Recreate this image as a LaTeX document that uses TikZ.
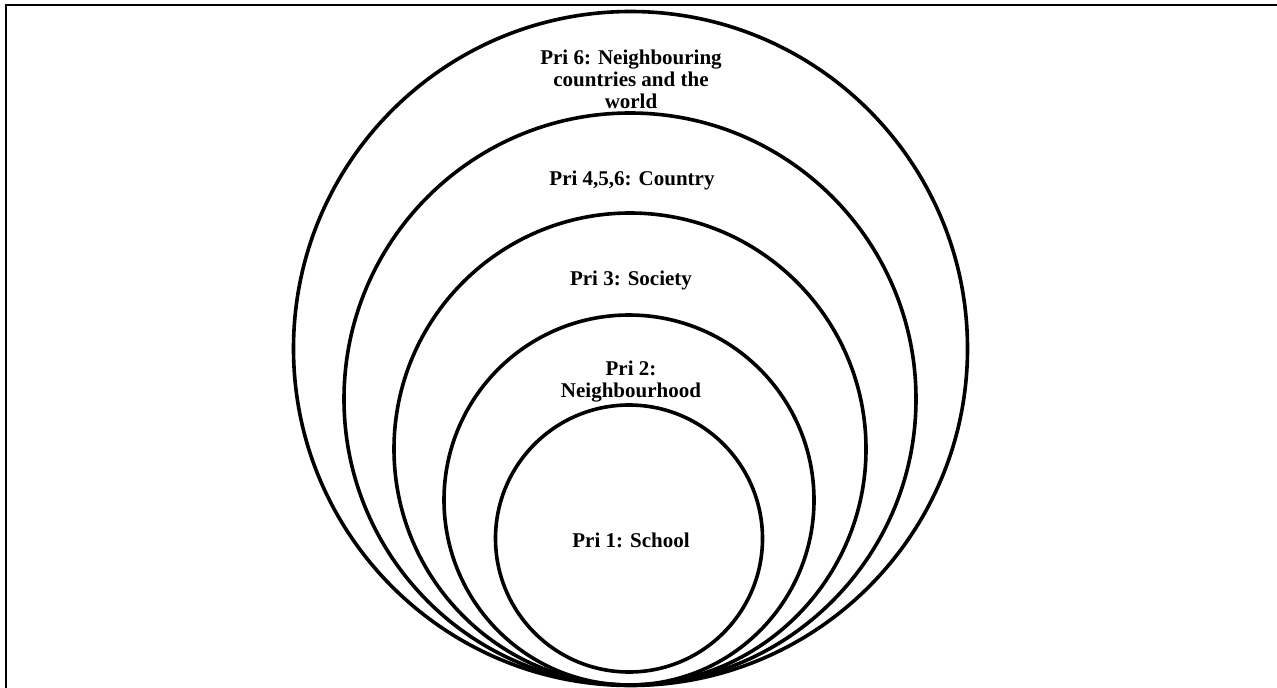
\documentclass[tikz,border=0pt]{standalone}
\usepackage{fontspec}
\setmainfont{Liberation Serif}
\begin{document}
\begin{tikzpicture}[x=1pt,y=-1pt,
  ring/.style={draw=black, line width=3.6pt, circle, inner sep=0pt, outer sep=0pt},
  lbl/.style={font=\bfseries\fontsize{21}{22}\selectfont, align=center, inner sep=0pt, text=black}]
\useasboundingbox (0,0) rectangle (1277,688);
% frame (left and top edges)
\coordinate (fb) at (6,690);
\coordinate (fc) at (6,5);
\coordinate (fr) at (1279,5);
\draw[line width=2pt] (fb) -- (fc) -- (fr);
% nested circles, tangent at bottom
\node[ring, minimum size=674pt] (c6) at (630.5,348.5) {};
\node[ring, minimum size=572pt] (c5) at (630,399) {};
\node[ring, minimum size=472pt] (c3) at (630,449) {};
\node[ring, minimum size=370pt] (c2) at (629,500) {};
\node[ring, minimum size=267pt] (c1) at (629,538.5) {};
% labels
\node[lbl] (t6) at (631,79) {Pri 6: Neighbouring\\countries and the\\world};
\node[lbl] (t5) at (632,180) {Pri 4,5,6: Country};
\node[lbl] (t3) at (631,280) {Pri 3: Society};
\node[lbl] (t2) at (631,382) {Pri 2:\\Neighbourhood};
\node[lbl] (t1) at (631,540) {Pri 1: School};
\end{tikzpicture}
\end{document}
